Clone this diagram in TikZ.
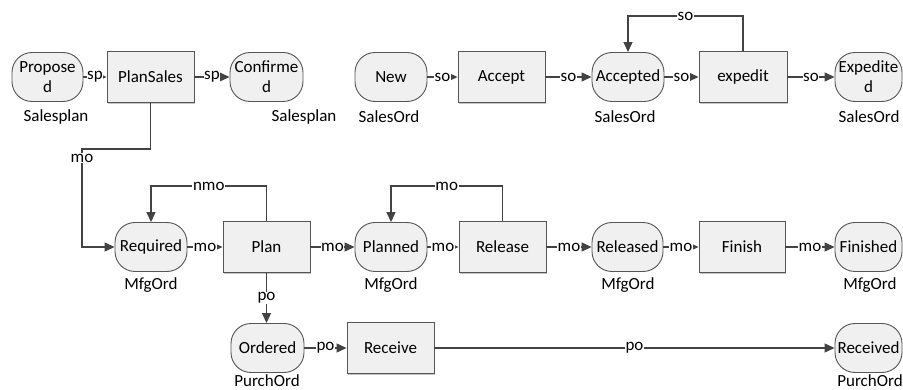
\documentclass[tikz,border=0pt]{standalone}
\usepackage{fontspec}
\setmainfont{Carlito}
\usetikzlibrary{arrows.meta,shadows}
\definecolor{ln}{HTML}{434343}
\definecolor{bd}{HTML}{555555}
\definecolor{fl}{HTML}{F0F0F0}
\begin{document}
\begin{tikzpicture}[x=1pt,y=-1pt,
  every node/.style={font=\fontsize{17}{20}\selectfont, text=black},
  statebox/.style={draw=bd, line width=0.9pt, fill=fl, rounded corners=20pt,
    minimum height=49pt, minimum width=#1, inner sep=0pt, align=center},
  actbox/.style={draw=bd, line width=0.9pt, fill=fl, minimum height=51pt,
    minimum width=#1, inner sep=0pt,
    drop shadow={shadow xshift=1.3pt,shadow yshift=-1.3pt,fill=gray,opacity=0.45}},
  conn/.style={draw=ln, line width=1.2pt, -{Triangle[length=10pt,width=9pt]}},
  lbl/.style={fill=white, inner sep=0.6pt},
  tag/.style={inner sep=0pt}
]
\fill[white] (0,0) rectangle (903,390);
\useasboundingbox (0,0) rectangle (903,390);

% row 1
\node[statebox=71pt] (prop) at (47.5,77) {Propose\\d};
\node[actbox=87pt] (plansales) at (150.5,77) {PlanSales};
\node[statebox=73pt] (conf) at (266.5,77) {Confirme\\d};
\node[statebox=72pt] (new) at (391,77) {New};
\node[actbox=87pt] (accept) at (501.5,77) {Accept};
\node[statebox=72pt] (accepted) at (628,77) {Accepted};
\node[actbox=88pt] (expedit) at (743,77) {expedit};
\node[statebox=67pt] (exped) at (868.5,77) {Expedite\\d};

% row 2
\node[statebox=72pt] (required) at (151,247) {Required};
\node[actbox=87pt] (plan) at (266.5,247) {Plan};
\node[statebox=72pt] (planned) at (391,247) {Planned};
\node[actbox=87pt] (release) at (502.5,247) {Release};
\node[statebox=71pt] (released) at (627.5,247) {Released};
\node[actbox=86pt] (finish) at (742,247) {Finish};
\node[statebox=67pt] (finished) at (868.5,247) {Finished};

% row 3
\node[statebox=73pt] (ordered) at (267.5,348) {Ordered};
\node[actbox=87pt] (receive) at (390.5,348) {Receive};
\node[statebox=67pt] (received) at (868.5,348) {Received};

% object tags
\node[tag] (t1) at (56,117) {Salesplan};
\node[tag] (t2) at (304,117) {Salesplan};
\node[tag] (t3) at (389,117) {SalesOrd};
\node[tag] (t4) at (625,117) {SalesOrd};
\node[tag] (t5) at (869,117) {SalesOrd};
\node[tag] (t6) at (151,285) {MfgOrd};
\node[tag] (t7) at (391,285) {MfgOrd};
\node[tag] (t8) at (628,285) {MfgOrd};
\node[tag] (t9) at (870,285) {MfgOrd};
\node[tag] (t10) at (267,381) {PurchOrd};
\node[tag] (t11) at (870,381) {PurchOrd};

% helper coordinates
\coordinate (ysoloop) at (0,16);
\coordinate (ymoloop) at (0,186);
\coordinate (mobend) at (82,149);

% row 1 connectors
\draw[conn] (prop.east) -- node[lbl]{sp} (plansales.west);
\draw[conn] (plansales.east) -- node[lbl]{sp} (conf.west);
\draw[conn] (new.east) -- node[lbl]{so} (accept.west);
\draw[conn] (accept.east) -- node[lbl]{so} (accepted.west);
\draw[conn] (accepted.east) -- node[lbl]{so} (expedit.west);
\draw[conn] (expedit.east) -- node[lbl]{so} (exped.west);
\draw[conn] (expedit.north) -- (expedit.north |- ysoloop)
   -- node[lbl]{so} (accepted.north |- ysoloop) -- (accepted.north);

% PlanSales -> Required
\draw[conn] (plansales.south) -- (plansales.south |- mobend) -- (mobend)
   -- (mobend |- required.west) -- (required.west);
\node[lbl] (molbl) at (82,158) {mo};

% row 2 connectors
\draw[conn] (required.east) -- node[lbl]{mo} (plan.west);
\draw[conn] (plan.east) -- node[lbl]{mo} (planned.west);
\draw[conn] (planned.east) -- node[lbl]{mo} (release.west);
\draw[conn] (release.east) -- node[lbl]{mo} (released.west);
\draw[conn] (released.east) -- node[lbl]{mo} (finish.west);
\draw[conn] (finish.east) -- node[lbl]{mo} (finished.west);
\draw[conn] (plan.north) -- (plan.north |- ymoloop)
   -- node[lbl]{nmo} (required.north |- ymoloop) -- (required.north);
\draw[conn] (release.north) -- (release.north |- ymoloop)
   -- node[lbl]{mo} (planned.north |- ymoloop) -- (planned.north);

% row 3 connectors
\draw[conn] (plan.south) -- node[lbl]{po} (ordered.north -| plan.south);
\draw[conn] (ordered.east) -- node[lbl]{po} (receive.west);
\draw[conn] (receive.east) -- node[lbl]{po} (received.west);
\end{tikzpicture}
\end{document}
